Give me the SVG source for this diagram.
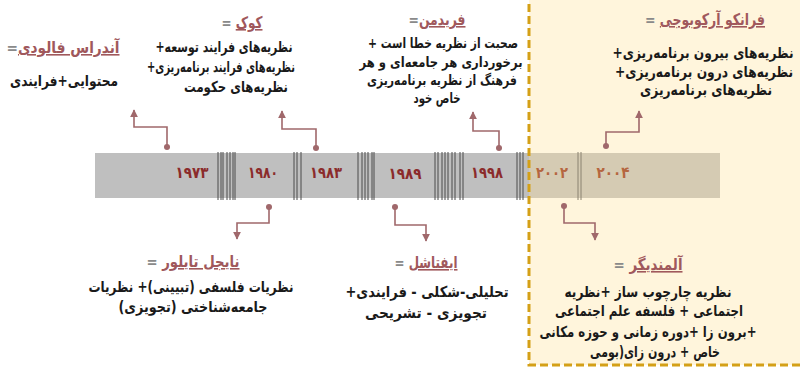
<svg xmlns="http://www.w3.org/2000/svg" width="800" height="368" viewBox="0 0 800 368">
<defs>
<style>
text{font-family:"DejaVu Sans",sans-serif;}
.yr{font-size:16px;font-weight:bold;fill:#8B2B2B;text-anchor:middle;}
.yr2{fill:#B5663F;}
.ti{font-size:16px;font-weight:bold;text-anchor:middle;}
.nm{fill:#A0585C;text-decoration:underline;}
.eq{fill:#8A8A8A;}
.bd{font-size:15px;font-weight:bold;fill:#1A1A1A;text-anchor:middle;}
.sm{font-size:14px;}
.tk{stroke:#4A4A4A;stroke-width:1;}
.cn{fill:none;stroke:#A0686B;stroke-width:1.6;marker-start:url(#dot);marker-end:url(#arr);}
</style>
<marker id="arr" viewBox="0 0 10 10" refX="9" refY="5" markerWidth="8" markerHeight="8" markerUnits="userSpaceOnUse" orient="auto">
<path d="M0,0 L10,5 L0,10 Z" fill="#A0686B"/>
</marker>
<marker id="dot" viewBox="0 0 10 10" refX="5" refY="5" markerWidth="6" markerHeight="6" markerUnits="userSpaceOnUse">
<circle cx="5" cy="5" r="5" fill="#A0686B"/>
</marker>
</defs>
<rect width="800" height="368" fill="#FFFFFF"/>
<rect id="period" x="529" y="-10" width="290" height="375" fill="#FFF5DC"/>
<g id="bar">
<rect x="95" y="153" width="434" height="45" fill="#BFBFBF"/>
<rect x="529" y="153" width="191" height="45" fill="#D5CBB3"/>
<g class="tk">
<path d="M218,152V200M221,152V200M223,152V200M227,152V200M230,152V200M233,152V200M235,152V200"/>
<path d="M294,152V200M297,152V200M301,152V200"/>
<path d="M358,152V200M362,152V200M365,152V200M368,152V200M372,152V200M374,152V200"/>
<path d="M435,152V200M438,152V200M442,152V200M445,152V200M448,152V200M452,152V200M455,152V200M460,152V200M463,152V200"/>
<path d="M517,152V200M520,152V200M523,152V200"/>
<path d="M578,152V200M581,152V200" stroke="#8A8270"/>
</g>
<text class="yr" x="192" y="178" textLength="33" lengthAdjust="spacingAndGlyphs">۱۹۷۳</text>
<text class="yr" x="263" y="178" textLength="30" lengthAdjust="spacingAndGlyphs">۱۹۸۰</text>
<text class="yr" x="326" y="178" textLength="32" lengthAdjust="spacingAndGlyphs">۱۹۸۳</text>
<text class="yr" x="405" y="179" textLength="33" lengthAdjust="spacingAndGlyphs">۱۹۸۹</text>
<text class="yr" x="487" y="178" textLength="32" lengthAdjust="spacingAndGlyphs">۱۹۹۸</text>
<text class="yr yr2" x="552" y="178" textLength="32" lengthAdjust="spacingAndGlyphs">۲۰۰۲</text>
<text class="yr yr2" x="613" y="178" textLength="33" lengthAdjust="spacingAndGlyphs">۲۰۰۴</text>
</g>
<rect x="529" y="-10" width="290" height="375" fill="none" stroke="#D4A017" stroke-width="3" stroke-dasharray="8 4"/>
<g id="connectors">
<path class="cn" d="M167,147V127H134V110"/>
<path class="cn" d="M316,148V129H282V111"/>
<path class="cn" d="M499,148V131H473V112"/>
<path class="cn" d="M606,146V132H639V111"/>
<path class="cn" d="M269,207V223H237V239"/>
<path class="cn" d="M395,207V225H426V241"/>
<path class="cn" d="M564,206V223H595V240"/>
</g>
<g id="faludi">
<text class="ti" x="63" y="53" direction="rtl" textLength="113" lengthAdjust="spacingAndGlyphs"><tspan class="nm">آندراس فالودی</tspan><tspan class="eq">=</tspan></text>
<text class="bd" x="64" y="86" direction="rtl" textLength="108" lengthAdjust="spacingAndGlyphs">محتوایی+فرایندی</text>
</g>
<g id="kok">
<text class="ti" x="242" y="28" direction="rtl" textLength="41" lengthAdjust="spacingAndGlyphs"><tspan class="nm">کوک</tspan><tspan class="eq"> =</tspan></text>
<text class="bd" x="224" y="52" direction="rtl" textLength="137" lengthAdjust="spacingAndGlyphs">نظریه‌های فرایند توسعه+</text>
<text class="bd" x="221" y="72" direction="rtl" textLength="148" lengthAdjust="spacingAndGlyphs">نظریه‌های فرایند برنامه‌ریزی+</text>
<text class="bd" x="236" y="92" direction="rtl" textLength="104" lengthAdjust="spacingAndGlyphs">نظریه‌های حکومت</text>
</g>
<g id="friedmann">
<text class="ti" x="437" y="25" direction="rtl" textLength="57" lengthAdjust="spacingAndGlyphs"><tspan class="nm">فریدمن</tspan><tspan class="eq">=</tspan></text>
<text class="bd sm" x="443" y="48" direction="rtl" textLength="150" lengthAdjust="spacingAndGlyphs">صحبت از نظریه خطا است +</text>
<text class="bd sm" x="441" y="67" direction="rtl" textLength="163" lengthAdjust="spacingAndGlyphs">برخورداری هر جامعه‌ای و هر</text>
<text class="bd sm" x="442" y="85" direction="rtl" textLength="150" lengthAdjust="spacingAndGlyphs">فرهنگ از نظریه برنامه‌ریزی</text>
<text class="bd sm" x="437" y="103" direction="rtl" textLength="47" lengthAdjust="spacingAndGlyphs">خاص خود</text>
</g>
<g id="archibugi">
<text class="ti" x="705" y="25" direction="rtl" textLength="120" lengthAdjust="spacingAndGlyphs"><tspan class="nm">فرانکو آرکوبوجی</tspan><tspan class="eq"> =</tspan></text>
<text class="bd" x="703" y="58" direction="rtl" textLength="181" lengthAdjust="spacingAndGlyphs">نظریه‌های بیرون برنامه‌ریزی+</text>
<text class="bd" x="704" y="77" direction="rtl" textLength="178" lengthAdjust="spacingAndGlyphs">نظریه‌های درون برنامه‌ریزی+</text>
<text class="bd" x="706" y="95" direction="rtl" textLength="132" lengthAdjust="spacingAndGlyphs">نظریه‌های برنامه‌ریزی</text>
</g>
<g id="taylor">
<text class="ti" x="193" y="267" direction="rtl" textLength="93" lengthAdjust="spacingAndGlyphs"><tspan class="nm">نایجل تایلور</tspan><tspan class="eq"> =</tspan></text>
<text class="bd" x="191" y="292" direction="rtl" textLength="205" lengthAdjust="spacingAndGlyphs">نظریات فلسفی (تبیینی)+ نظریات</text>
<text class="bd" x="193" y="312" direction="rtl" textLength="149" lengthAdjust="spacingAndGlyphs">جامعه‌شناختی (تجویزی)</text>
</g>
<g id="yiftachel">
<text class="ti" x="426" y="268" direction="rtl" textLength="63" lengthAdjust="spacingAndGlyphs"><tspan class="nm">ایفتاشل</tspan><tspan class="eq"> =</tspan></text>
<text class="bd" x="427" y="297" direction="rtl" textLength="163" lengthAdjust="spacingAndGlyphs">تحلیلی-شکلی - فرایندی+</text>
<text class="bd" x="426" y="318" direction="rtl" textLength="122" lengthAdjust="spacingAndGlyphs">تجویزی - تشریحی</text>
</g>
<g id="allmendinger">
<text class="ti" x="648" y="270" direction="rtl" textLength="69" lengthAdjust="spacingAndGlyphs"><tspan class="nm">آلمندیگر</tspan><tspan class="eq"> =</tspan></text>
<text class="bd" x="648" y="297" direction="rtl" textLength="167" lengthAdjust="spacingAndGlyphs">نظریه چارچوب ساز +نظریه</text>
<text class="bd" x="649" y="316" direction="rtl" textLength="188" lengthAdjust="spacingAndGlyphs">اجتماعی + فلسفه علم اجتماعی</text>
<text class="bd" x="648" y="337" direction="rtl" textLength="217" lengthAdjust="spacingAndGlyphs">+برون زا +دوره زمانی و حوزه مکانی</text>
<text class="bd" x="655" y="357" direction="rtl" textLength="130" lengthAdjust="spacingAndGlyphs">خاص + درون زای(بومی</text>
</g>
</svg>
